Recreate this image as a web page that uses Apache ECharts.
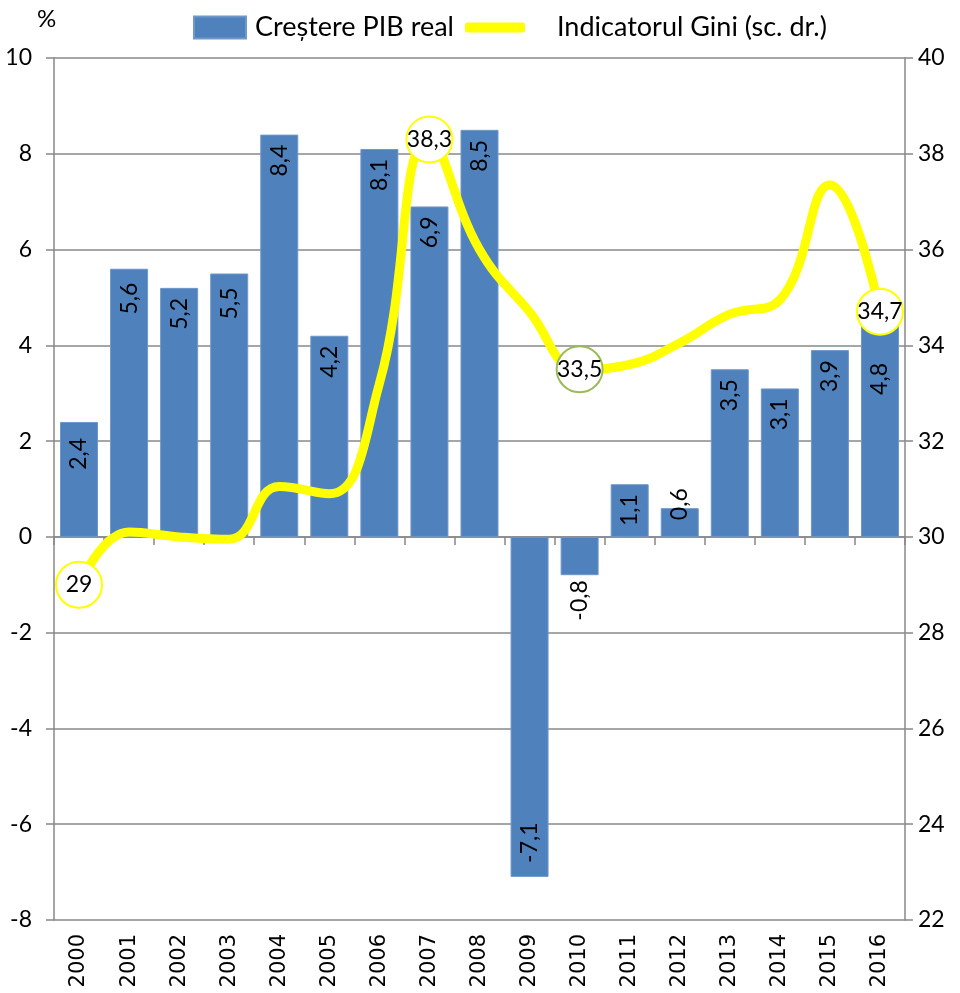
<!DOCTYPE html>
<html>
<head>
<meta charset="utf-8">
<script src="https://cdn.jsdelivr.net/npm/echarts@6/dist/echarts.min.js"></script>
<style>html,body{margin:0;padding:0;background:#fff}#c{width:960px;height:993px}</style>
</head>
<body>
<div id="c"></div>
<script>
var years = ['2000','2001','2002','2003','2004','2005','2006','2007','2008','2009','2010','2011','2012','2013','2014','2015','2016'];
var gdpGrowth = [2.4, 5.6, 5.2, 5.5, 8.4, 4.2, 8.1, 6.9, 8.5, -7.1, -0.8, 1.1, 0.6, 3.5, 3.1, 3.9, 4.8];
var gini = [29, 30.1, 30.0, 29.95, 31.05, 30.9, 33.2, 38.3, 36.0, 34.7, 33.5, 33.6, 34.05, 34.65, 34.95, 37.35, 34.7];
var giniLabelled = {'2000': '#ffff00', '2007': '#ffff00', '2010': '#9bbb59', '2016': '#ffff00'};
var leftTicks = {min: -8, max: 10, interval: 2};
var rightTicks = {min: 22, max: 40, interval: 2};

var NUM_FONT = 'Lato';
var labelDistanceOverride = {'2016': 56, '2000': 16, '2001': 14, '2003': 14};
function fmt(v) { return String(v).replace('.', ','); }

var barData = gdpGrowth.map(function (v, i) {
  var lab;
  if (v >= 0) {
    if (v < 1) {
      lab = {position: 'top', align: 'left', distance: -12};
    } else {
      var d = labelDistanceOverride[years[i]];
      lab = {position: 'insideTop', align: 'right', distance: d != null ? d : 10};
    }
  } else {
    if (v > -1) {
      lab = {position: 'bottom', align: 'right', distance: 5};
    } else {
      lab = {position: 'insideBottom', align: 'left', distance: 14};
    }
  }
  return {value: v, label: lab};
});

var lineData = gini.map(function (v, i) {
  var col = giniLabelled[years[i]];
  if (col) {
    return {
      value: v,
      symbol: 'circle',
      symbolSize: 46,
      itemStyle: {color: '#ffffff', borderColor: col, borderWidth: 2},
      label: {show: true, position: 'inside', formatter: function (p) { return fmt(p.value); },
        color: '#000', fontSize: 23, fontFamily: NUM_FONT}
    };
  }
  return {value: v, symbol: 'none'};
});

var chart = echarts.init(document.getElementById('c'), null, {renderer: 'canvas'});
chart.setOption({
  animation: false,
  backgroundColor: '#ffffff',
  grid: {left: 54, right: 55, top: 58, bottom: 73, containLabel: false},
  graphic: [{type: 'text', left: 37, top: 7, style: {text: '%', fontSize: 24, fontFamily: NUM_FONT, fill: '#000'}}],
  legend: [
    {data: [{name: 'Creștere PIB real', icon: 'rect'}], left: 193, top: 14, padding: 0, itemWidth: 52, itemHeight: 22,
      itemGap: 10, textStyle: {fontSize: 27, fontFamily: NUM_FONT, color: '#000', padding: [0, 0, 0, 4]}},
    {data: [{name: 'Indicatorul Gini (sc. dr.)', icon: 'roundRect'}], left: 465, top: 14, padding: 0, itemWidth: 60, itemHeight: 10,
      textStyle: {fontSize: 27, fontFamily: NUM_FONT, color: '#000', padding: [0, 0, 0, 27]}}
  ],
  xAxis: [
    {type: 'category', data: years, position: 'bottom', boundaryGap: true,
      axisLine: {show: false, onZero: false}, axisTick: {show: false},
      axisLabel: {rotate: 90, margin: 14, fontSize: 21, fontFamily: 'DejaVu Sans', color: '#000', interval: 0},
      splitLine: {show: false}},
    {type: 'category', data: years, position: 'bottom', boundaryGap: true,
      axisLine: {show: true, onZero: true, onZeroAxisIndex: 0, lineStyle: {color: '#888888', width: 1.5}},
      axisTick: {show: true, length: 8, inside: false, interval: 0, lineStyle: {color: '#888888', width: 1.5}},
      axisLabel: {show: false}, splitLine: {show: false}}
  ],
  yAxis: [
    {type: 'value', min: leftTicks.min, max: leftTicks.max, interval: leftTicks.interval, position: 'left',
      axisLine: {show: true, lineStyle: {color: '#888888', width: 1.5}},
      axisTick: {show: true, length: 8, lineStyle: {color: '#888888', width: 1.5}},
      axisLabel: {margin: 22, fontSize: 23, fontFamily: NUM_FONT, color: '#000'},
      splitLine: {show: true, lineStyle: {color: '#888888', width: 1.5}}},
    {type: 'value', min: rightTicks.min, max: rightTicks.max, interval: rightTicks.interval, position: 'right',
      axisLine: {show: true, lineStyle: {color: '#888888', width: 1.5}},
      axisTick: {show: true, length: 8, lineStyle: {color: '#888888', width: 1.5}},
      axisLabel: {margin: 13, fontSize: 23, fontFamily: NUM_FONT, color: '#000'},
      splitLine: {show: false}}
  ],
  series: [
    {name: 'Creștere PIB real', type: 'bar', xAxisIndex: 0, yAxisIndex: 0, barWidth: 38,
      itemStyle: {color: '#4f81bd', borderColor: '#6f97c9', borderWidth: 1},
      label: {show: true, rotate: 90, verticalAlign: 'middle', color: '#000', fontSize: 23, fontFamily: NUM_FONT,
        formatter: function (p) { return fmt(p.value); }},
      data: barData, z: 2},
    {name: 'Indicatorul Gini (sc. dr.)', type: 'line', xAxisIndex: 0, yAxisIndex: 1, smooth: 0.45,
      lineStyle: {color: '#ffff00', width: 9}, itemStyle: {color: '#ffff00'},
      data: lineData, z: 5}
  ]
});
</script>
</body>
</html>
